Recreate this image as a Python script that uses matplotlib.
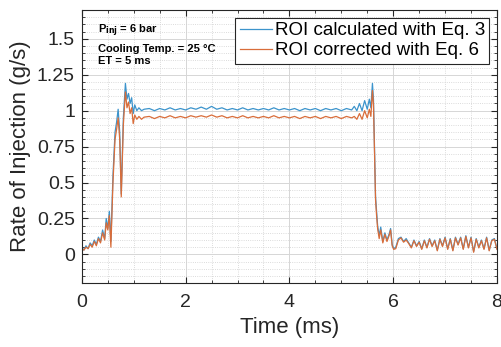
import matplotlib
matplotlib.use('Agg')
import matplotlib.pyplot as plt
from matplotlib.ticker import MultipleLocator, FormatStrFormatter

plt.rcParams['font.family'] = ['Liberation Sans', 'DejaVu Sans']

# time (ms)
t = [0.00, 0.04, 0.08, 0.12, 0.16, 0.20, 0.24, 0.28, 0.32, 0.36,
     0.40, 0.44, 0.47, 0.50, 0.53, 0.56, 0.60, 0.64, 0.67, 0.70,
     0.73, 0.76, 0.80, 0.84, 0.87, 0.90, 0.93, 0.96, 0.99, 1.02,
     1.06, 1.10, 1.15, 1.20,
     1.3, 1.4, 1.5, 1.6, 1.7, 1.8, 1.9, 2.0, 2.1, 2.2,
     2.3, 2.4, 2.5, 2.6, 2.7, 2.8, 2.9, 3.0, 3.1, 3.2,
     3.3, 3.4, 3.5, 3.6, 3.7, 3.8, 3.9, 4.0, 4.1, 4.2,
     4.3, 4.4, 4.5, 4.6, 4.7, 4.8, 4.9, 5.0, 5.1, 5.2,
     5.25, 5.30, 5.35, 5.40, 5.45, 5.50, 5.54, 5.57, 5.60, 5.62,
     5.64, 5.66, 5.68, 5.70, 5.73, 5.76, 5.80, 5.84, 5.88, 5.92,
     5.95, 5.98, 6.01, 6.05, 6.10, 6.15, 6.20, 6.25, 6.30, 6.35,
     6.40, 6.45, 6.50, 6.55, 6.60, 6.65, 6.70, 6.75, 6.80, 6.85,
     6.90, 6.95, 7.00, 7.05, 7.10, 7.15, 7.20, 7.25, 7.30, 7.35,
     7.40, 7.45, 7.50, 7.55, 7.60, 7.65, 7.70, 7.75, 7.80, 7.85,
     7.90, 7.95, 8.00]

# ROI calculated with Eq. 3 (g/s)
roi_eq3 = [0.05, 0.03, 0.06, 0.04, 0.08, 0.06, 0.10, 0.07, 0.12, 0.09,
           0.17, 0.11, 0.25, 0.18, 0.30, 0.09, 0.55, 0.85, 0.92, 1.01,
           0.85, 0.42, 0.95, 1.19, 1.08, 1.12, 1.05, 1.09, 0.98, 1.04,
           1.00, 1.02, 1.00, 1.01,
           1.015, 1.0, 1.015, 1.005, 1.02, 1.005, 1.015, 1.005, 1.02, 1.01,
           1.025, 1.01, 1.03, 1.01, 1.02, 1.005, 1.015, 1.005, 1.02, 1.005,
           1.015, 1.005, 1.015, 1.005, 1.02, 1.005, 1.015, 1.005, 1.015, 1.0,
           1.015, 1.005, 1.015, 1.0, 1.015, 1.005, 1.015, 1.0, 1.015, 1.005,
           1.03, 1.00, 1.05, 1.00, 1.07, 1.01, 1.08, 1.02, 1.19, 1.08,
           0.75, 0.40, 0.30, 0.20, 0.13, 0.19, 0.09, 0.15, 0.10, 0.14,
           0.18, 0.07, 0.04, 0.05, 0.11, 0.12, 0.09, 0.11, 0.08, 0.05,
           0.10, 0.06, 0.09, 0.04, 0.10, 0.05, 0.11, 0.06, 0.10, 0.03,
           0.11, 0.06, 0.12, 0.04, 0.11, 0.03, 0.12, 0.07, 0.12, 0.04,
           0.13, 0.05, 0.12, 0.02, 0.11, 0.05, 0.10, 0.04, 0.12, 0.03,
           0.10, 0.11, 0.04]

# ROI corrected with Eq. 6 (g/s)
roi_eq6 = [0.04, 0.03, 0.05, 0.04, 0.07, 0.05, 0.09, 0.06, 0.11, 0.08,
           0.15, 0.10, 0.22, 0.17, 0.27, 0.05, 0.50, 0.80, 0.87, 0.95,
           0.80, 0.40, 0.90, 1.13, 1.02, 1.06, 0.98, 1.02, 0.91, 0.97,
           0.94, 0.96, 0.94, 0.955,
           0.96, 0.945, 0.96, 0.95, 0.965, 0.95, 0.96, 0.95, 0.965, 0.955,
           0.965, 0.955, 0.97, 0.955, 0.965, 0.95, 0.96, 0.95, 0.965, 0.95,
           0.96, 0.95, 0.96, 0.95, 0.965, 0.95, 0.96, 0.95, 0.96, 0.945,
           0.96, 0.95, 0.96, 0.945, 0.96, 0.95, 0.96, 0.945, 0.96, 0.95,
           0.96, 0.94, 0.98, 0.94, 1.00, 0.95, 1.01, 0.96, 1.14, 1.04,
           0.72, 0.38, 0.27, 0.18, 0.11, 0.17, 0.08, 0.14, 0.09, 0.13,
           0.17, 0.06, 0.035, 0.04, 0.10, 0.115, 0.085, 0.10, 0.075, 0.045,
           0.095, 0.055, 0.085, 0.035, 0.095, 0.045, 0.105, 0.055, 0.095, 0.025,
           0.105, 0.055, 0.115, 0.035, 0.105, 0.025, 0.115, 0.065, 0.115, 0.035,
           0.125, 0.045, 0.115, 0.015, 0.105, 0.045, 0.095, 0.035, 0.115, 0.025,
           0.095, 0.105, 0.035]

fig = plt.figure(figsize=(5.02, 3.47), dpi=100)
ax = fig.add_axes([0.163, 0.184, 0.827, 0.787])

ax.plot(t, roi_eq3, color='#3c94cc', lw=0.9, label='ROI calculated with Eq. 3')
ax.plot(t, roi_eq6, color='#d96d3a', lw=0.9, label='ROI corrected with Eq. 6')

ax.set_xlim(0, 8)
ax.set_ylim(-0.2, 1.7)
ax.xaxis.set_major_locator(MultipleLocator(2))
ax.xaxis.set_minor_locator(MultipleLocator(0.5))
ax.yaxis.set_major_locator(MultipleLocator(0.25))
ax.yaxis.set_minor_locator(MultipleLocator(0.05))
ax.yaxis.set_major_formatter(FormatStrFormatter('%g'))

ax.grid(which='major', color='#d6d6d6', lw=0.7)
ax.grid(which='minor', color='#cfcfcf', lw=0.6, ls=':')
ax.set_axisbelow(True)

ax.tick_params(which='both', direction='in', top=True, right=True, labelsize=14, colors='#262626')
ax.tick_params(axis='y', which='minor', length=0)
ax.tick_params(which='major', length=4, pad=5)
ax.tick_params(axis='x', which='major', pad=8)
ax.tick_params(which='minor', length=2)
for s in ax.spines.values():
    s.set_color('#262626')
    s.set_linewidth(0.8)

ax.set_xlabel('Time (ms)', fontsize=16, color='#262626', labelpad=4)
ax.set_ylabel('Rate of Injection (g/s)', fontsize=16, color='#262626', labelpad=4)

ax.text(0.04, 0.955, r'P$_{\mathbf{inj}}$ = 6 bar', transform=ax.transAxes,
        fontsize=8, fontweight='bold', va='top')
ax.text(0.04, 0.875, 'Cooling Temp. = 25 °C', transform=ax.transAxes,
        fontsize=8, fontweight='bold', va='top')
ax.text(0.04, 0.83, 'ET = 5 ms', transform=ax.transAxes,
        fontsize=8, fontweight='bold', va='top')

leg = ax.legend(loc='upper right', fontsize=13.5, frameon=True, fancybox=False,
                edgecolor='#262626', framealpha=1, handlelength=1.7,
                handletextpad=0.15, borderpad=0.25, labelspacing=0.15,
                borderaxespad=0.4)
leg.get_frame().set_linewidth(0.8)

fig.savefig('out.png', dpi=100)
